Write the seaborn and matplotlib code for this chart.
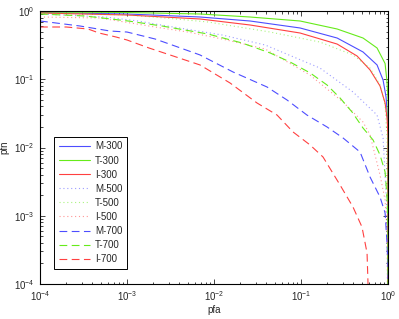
import numpy as np
import pandas as pd
import matplotlib
matplotlib.use("Agg")
import matplotlib.pyplot as plt
import seaborn as sns

# ---------------------------------------------------------
# Data (pfa, pfn pairs per curve)
# ---------------------------------------------------------
m300_pfa = [1e-4, 1e-3, 6.9e-3, 2.59e-2, 9.75e-2, 0.26, 0.516, 0.748, 0.877, 0.949, 0.974, 1.0, 1.0]
m300_pfn = [0.951, 0.904, 0.817, 0.714, 0.564, 0.402, 0.251, 0.162, 0.0975, 0.0549, 0.0354, 0.02, 1e-5]

t300_pfa = [1e-4, 1e-3, 6.9e-3, 2.59e-2, 9.75e-2, 0.26, 0.516, 0.748, 0.925, 0.974, 1.0, 1.0]
t300_pfn = [0.967, 0.951, 0.904, 0.817, 0.714, 0.545, 0.402, 0.287, 0.17, 0.0912, 0.05, 1e-5]

i300_pfa = [1e-4, 1e-3, 6.9e-3, 2.59e-2, 9.75e-2, 0.26, 0.441, 0.621, 0.809, 0.925, 0.974, 1.0, 1.0]
i300_pfn = [0.935, 0.874, 0.764, 0.624, 0.476, 0.328, 0.219, 0.137, 0.0796, 0.0449, 0.0271, 0.015, 1e-5]

m500_pfa = [1e-4, 5.58e-4, 1.34e-3, 2.1e-3, 1.24e-2, 3.86e-2, 0.165, 0.396, 0.748, 0.877, 0.925, 0.974, 1.0]
m500_pfn = [0.904, 0.817, 0.714, 0.645, 0.445, 0.318, 0.146, 0.065, 0.0299, 0.0138, 0.00396, 0.0011, 1e-5]

t500_pfa = [1e-4, 1e-3, 2.73e-3, 8.53e-3, 4.41e-2, 0.165, 0.396, 0.621, 0.809, 0.925, 0.974, 1.0]
t500_pfn = [0.935, 0.874, 0.79, 0.69, 0.492, 0.351, 0.227, 0.146, 0.0824, 0.042, 0.0138, 1e-5]

i500_pfa = [1e-4, 4.9e-4, 2.1e-3, 5.02e-3, 1.24e-2, 3.86e-2, 0.127, 0.304, 0.516, 0.621, 0.809, 0.925, 0.974, 1.0]
i500_pfn = [0.817, 0.79, 0.583, 0.492, 0.389, 0.278, 0.115, 0.0464, 0.0236, 0.0153, 0.00396, 0.0017, 0.000618, 1e-5]

m700_pfa = [1e-4, 2.88e-4, 6.38e-4, 1e-3, 2.1e-3, 3.29e-3, 6.9e-3, 1.65e-2, 4.07e-2, 6.9e-2, 0.117,
            0.199, 0.304, 0.477, 0.621, 0.809, 0.925, 0.974, 1.0, 1.0]
m700_pfn = [0.714, 0.603, 0.509, 0.492, 0.389, 0.318, 0.227, 0.128, 0.077, 0.0497, 0.0299,
            0.02, 0.0138, 0.00859, 0.0037, 0.00188, 0.0011, 0.000399, 0.00016, 1e-5]

t700_pfa = [1e-4, 3.29e-4, 1.03e-3, 2.52e-3, 8.53e-3, 2.1e-2, 4.41e-2, 7.48e-2, 0.127, 0.199,
            0.281, 0.386, 0.516, 0.673, 0.809, 0.925, 0.974, 1.0, 1.0]
t700_pfn = [0.904, 0.845, 0.714, 0.603, 0.46, 0.34, 0.243, 0.179, 0.124, 0.0824,
            0.0531, 0.0331, 0.0193, 0.0129, 0.00777, 0.00438, 0.00188, 0.000618, 1e-5]

i700_pfa = [1e-4, 2e-4, 3.56e-4, 4.77e-4, 7.48e-4, 1e-3, 1.79e-3, 3.12e-3, 6.9e-3, 1.53e-2, 3.12e-2,
            5.3e-2, 8.09e-2, 0.127, 0.179, 0.281, 0.396, 0.502, 0.574, 0.589, 0.59]
i700_pfn = [0.583, 0.583, 0.545, 0.476, 0.416, 0.376, 0.287, 0.227, 0.162, 0.0881, 0.0449,
            0.0299, 0.0169, 0.0109, 0.00726, 0.00282, 0.00134, 0.000684, 0.000285, 1e-4, 5e-5]

labels = ["M-300", "T-300", "I-300", "M-500", "T-500", "I-500", "M-700", "T-700", "I-700"]

# ---------------------------------------------------------
# Styling
# ---------------------------------------------------------
sns.set_style("ticks")
plt.rcParams["font.family"] = ["Liberation Sans", "DejaVu Sans"]
plt.rcParams["mathtext.default"] = "regular"

blue = (0.3, 0.3, 1.0)
green = (0.4, 0.92, 0.1)
red = (1.0, 0.25, 0.25)
solid = "-"
dotted = (0, (1, 2.5))
dashed = (0, (7, 4))

series = [
    (m300_pfa, m300_pfn, blue, solid, 1.0),
    (t300_pfa, t300_pfn, green, solid, 1.0),
    (i300_pfa, i300_pfn, red, solid, 1.0),
    (m500_pfa, m500_pfn, blue, dotted, 0.55),
    (t500_pfa, t500_pfn, green, dotted, 0.55),
    (i500_pfa, i500_pfn, red, dotted, 0.55),
    (m700_pfa, m700_pfn, blue, dashed, 1.0),
    (t700_pfa, t700_pfn, green, dashed, 1.0),
    (i700_pfa, i700_pfn, red, dashed, 1.0),
]

fig = plt.figure(figsize=(3.99, 3.19), dpi=100)
ax = fig.add_axes([0.1003, 0.1097, 0.8722, 0.8558])

for (pfa, pfn, col, ls, alpha), lab in zip(series, labels):
    d = pd.DataFrame({"pfa": pfa, "pfn": pfn})
    sns.lineplot(data=d, x="pfa", y="pfn", ax=ax, color=col, linestyle=ls,
                 linewidth=0.8, alpha=alpha, sort=False, estimator=None, label=lab)

ax.set_xscale("log")
ax.set_yscale("log")
ax.set_xlim(1e-4, 1)
ax.set_ylim(1e-4, 1)
ax.set_xlabel("pfa", fontsize=7, labelpad=1)
ax.set_ylabel("pfn", fontsize=7, labelpad=3)

ax.tick_params(which="both", direction="in", top=True, right=True, labelsize=7, width=0.6)
ax.tick_params(which="major", length=3.5, pad=4)
ax.tick_params(which="minor", length=1.8)
for sp in ax.spines.values():
    sp.set_linewidth(0.8)
    sp.set_color("black")

leg = ax.legend(loc="lower left", bbox_to_anchor=(0.04, 0.055), borderaxespad=0,
                fontsize=7, frameon=True, fancybox=False, framealpha=1,
                edgecolor="black", handlelength=3.2, labelspacing=0.42,
                handletextpad=0.5, borderpad=0.5)
leg.get_frame().set_linewidth(0.7)

fig.savefig("out.png", dpi=100)
